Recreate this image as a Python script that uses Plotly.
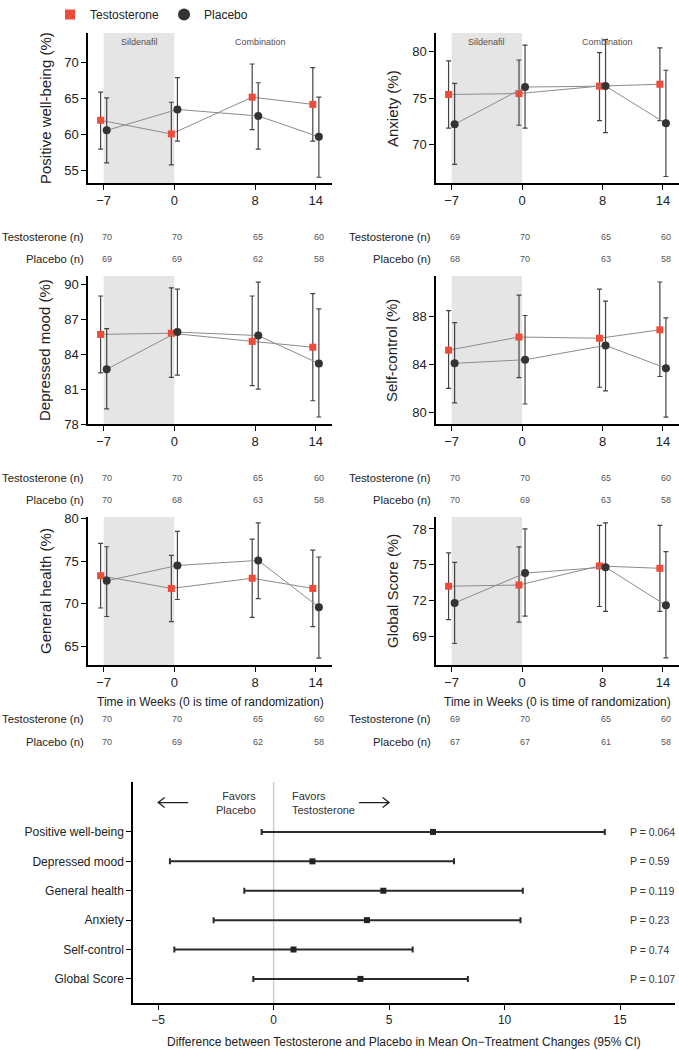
import plotly.graph_objects as go

W, H = 679, 1050
FONT = "Liberation Sans, Arial, sans-serif"

weeks = [-7, 0, 8, 14]
week_labels = ["−7", "0", "8", "14"]

# ---- Panel data (mean, lower CI, upper CI) ----
pwb_t = [62.0, 60.1, 65.2, 64.2]
pwb_t_lo = [58.0, 55.8, 60.7, 59.1]
pwb_t_hi = [65.9, 64.5, 69.8, 69.3]
pwb_p = [60.6, 63.5, 62.6, 59.7]
pwb_p_lo = [56.1, 59.1, 58.0, 54.1]
pwb_p_hi = [65.1, 67.9, 67.2, 65.2]

anx_t = [75.4, 75.5, 76.3, 76.5]
anx_t_lo = [71.8, 72.1, 72.6, 72.6]
anx_t_hi = [79.0, 79.1, 79.9, 80.4]
anx_p = [72.2, 76.2, 76.3, 72.3]
anx_p_lo = [67.9, 71.8, 71.3, 66.6]
anx_p_hi = [76.6, 80.7, 81.3, 78.0]

dep_t = [85.7, 85.8, 85.1, 84.6]
dep_t_lo = [82.4, 82.0, 81.3, 80.0]
dep_t_hi = [89.0, 89.7, 89.0, 89.2]
dep_p = [82.7, 85.9, 85.6, 83.2]
dep_p_lo = [79.3, 82.2, 81.0, 78.6]
dep_p_hi = [86.2, 89.6, 90.2, 87.9]

sc_t = [85.2, 86.3, 86.2, 86.9]
sc_t_lo = [82.0, 82.9, 82.1, 83.0]
sc_t_hi = [88.5, 89.8, 90.3, 90.9]
sc_p = [84.1, 84.4, 85.6, 83.7]
sc_p_lo = [80.8, 80.7, 81.8, 79.6]
sc_p_hi = [87.5, 88.1, 89.3, 87.9]

gh_t = [73.3, 71.8, 73.0, 71.8]
gh_t_lo = [69.5, 67.9, 68.4, 67.3]
gh_t_hi = [77.1, 75.7, 77.6, 76.3]
gh_p = [72.7, 74.5, 75.1, 69.6]
gh_p_lo = [68.5, 70.5, 70.6, 63.6]
gh_p_hi = [76.7, 78.5, 79.5, 75.5]

gs_t = [73.2, 73.3, 74.9, 74.7]
gs_t_lo = [70.4, 70.2, 71.5, 71.1]
gs_t_hi = [76.0, 76.5, 78.3, 78.3]
gs_p = [71.8, 74.3, 74.8, 71.6]
gs_p_lo = [68.4, 70.7, 71.1, 67.2]
gs_p_hi = [75.2, 78.0, 78.5, 76.1]

# ---- Sample sizes ----
pwb_n_t = [70, 70, 65, 60]
pwb_n_p = [69, 69, 62, 58]
anx_n_t = [69, 70, 65, 60]
anx_n_p = [68, 70, 63, 58]
dep_n_t = [70, 70, 65, 60]
dep_n_p = [70, 68, 63, 58]
sc_n_t = [70, 70, 65, 60]
sc_n_p = [70, 69, 63, 58]
gh_n_t = [70, 70, 65, 60]
gh_n_p = [70, 69, 62, 58]
gs_n_t = [69, 70, 65, 60]
gs_n_p = [67, 67, 61, 58]

panel_titles = ["Positive well-being (%)", "Anxiety (%)", "Depressed mood (%)",
                "Self-control (%)", "General health (%)", "Global Score (%)"]
panel_ranges = [[53.3, 74.1], [65.9, 82.0], [78.0, 90.72],
                [79.03, 91.4], [62.8, 80.2], [66.6, 79.0]]
panel_ticks = [[55, 60, 65, 70], [70, 75, 80], [78, 81, 84, 87, 90],
               [80, 84, 88], [65, 70, 75, 80], [69, 72, 75, 78]]

# ---- Forest plot data ----
forest_labels = ["Positive well-being", "Depressed mood", "General health",
                 "Anxiety", "Self-control", "Global Score"]
forest_est = [6.9, 1.68, 4.75, 4.04, 0.86, 3.76]
forest_lo = [-0.52, -4.49, -1.27, -2.6, -4.3, -0.88]
forest_hi = [14.34, 7.81, 10.79, 10.69, 6.02, 8.41]
forest_p = ["P = 0.064", "P = 0.59", "P = 0.119", "P = 0.23", "P = 0.74", "P = 0.107"]

panels = [
    (pwb_t, pwb_t_lo, pwb_t_hi, pwb_p, pwb_p_lo, pwb_p_hi, pwb_n_t, pwb_n_p),
    (anx_t, anx_t_lo, anx_t_hi, anx_p, anx_p_lo, anx_p_hi, anx_n_t, anx_n_p),
    (dep_t, dep_t_lo, dep_t_hi, dep_p, dep_p_lo, dep_p_hi, dep_n_t, dep_n_p),
    (sc_t, sc_t_lo, sc_t_hi, sc_p, sc_p_lo, sc_p_hi, sc_n_t, sc_n_p),
    (gh_t, gh_t_lo, gh_t_hi, gh_p, gh_p_lo, gh_p_hi, gh_n_t, gh_n_p),
    (gs_t, gs_t_lo, gs_t_hi, gs_p, gs_p_lo, gs_p_hi, gs_n_t, gs_n_p),
]

# ---- Layout geometry (pixels) ----
col_x = [(88, 332), (436, 679)]
row_y = [(33, 183), (276, 424), (517, 665)]
n_rows_y = [(237, 259), (478, 500), (719, 742)]
label_right = [86, 433]
ytitle_x = [45, 392]
XRANGE = [-8.55, 15.6]
T_COLOR = "#f04a38"
P_COLOR = "#333333"
LINE_COLOR = "#8c8c8c"
ERR_COLOR = "#444444"
TXT = "#222222"


def px(x):
    return x / W


def py(y):
    return 1 - y / H


def ann(**kw):
    kw.setdefault("showarrow", False)
    kw.setdefault("xanchor", "center")
    kw.setdefault("yanchor", "middle")
    return kw


fig = go.Figure()
layout = dict(width=W, height=H,
              margin=dict(l=0, r=0, t=0, b=0, pad=0, autoexpand=False),
              paper_bgcolor="white", plot_bgcolor="white",
              font=dict(family=FONT, color=TXT), shapes=[], annotations=[])

# legend entries (markers only)
fig.add_trace(go.Scatter(x=[None], y=[None], mode="markers", name="Testosterone",
                         marker=dict(symbol="square", size=10, color=T_COLOR)))
fig.add_trace(go.Scatter(x=[None], y=[None], mode="markers", name="Placebo",
                         marker=dict(symbol="circle", size=12, color=P_COLOR)))

for i, (tm, tlo, thi, pm, plo, phi, nt, npl) in enumerate(panels):
    r, c = i // 2, i % 2
    k = i + 1
    xa = "x" if k == 1 else f"x{k}"
    ya = "y" if k == 1 else f"y{k}"
    xkey = "xaxis" if k == 1 else f"xaxis{k}"
    ykey = "yaxis" if k == 1 else f"yaxis{k}"
    x0, x1 = col_x[c]
    y0, y1 = row_y[r]

    # Testosterone
    fig.add_trace(go.Scatter(
        x=[w - 0.3 for w in weeks], y=tm, xaxis=xa, yaxis=ya,
        mode="lines+markers", name="Testosterone", showlegend=False,
        line=dict(color=LINE_COLOR, width=1),
        marker=dict(symbol="square", size=7, color=T_COLOR),
        error_y=dict(type="data", symmetric=False,
                     array=[h - m for h, m in zip(thi, tm)],
                     arrayminus=[m - l for m, l in zip(tm, tlo)],
                     color=ERR_COLOR, thickness=1.2, width=2.5),
        cliponaxis=False))
    # Placebo
    fig.add_trace(go.Scatter(
        x=[w + 0.3 for w in weeks], y=pm, xaxis=xa, yaxis=ya,
        mode="lines+markers", name="Placebo", showlegend=False,
        line=dict(color=LINE_COLOR, width=1),
        marker=dict(symbol="circle", size=8, color=P_COLOR),
        error_y=dict(type="data", symmetric=False,
                     array=[h - m for h, m in zip(phi, pm)],
                     arrayminus=[m - l for m, l in zip(pm, plo)],
                     color=ERR_COLOR, thickness=1.2, width=2.5),
        cliponaxis=False))

    layout[xkey] = dict(domain=[px(x0), px(x1)], anchor=ya, range=XRANGE,
                        tickvals=weeks, ticktext=week_labels, automargin=False,
                        showline=True, linecolor="black", linewidth=1.5,
                        ticks="outside", ticklen=5, tickcolor="black",
                        showgrid=False, zeroline=False,
                        tickfont=dict(size=13, color=TXT))
    layout[ykey] = dict(domain=[py(y1), py(y0)], anchor=xa, automargin=False,
                        range=panel_ranges[i], tickvals=panel_ticks[i],
                        showline=True, linecolor="black", linewidth=1.5,
                        ticks="outside", ticklen=5, tickcolor="black",
                        showgrid=False, zeroline=False,
                        tickfont=dict(size=13, color=TXT))

    # shaded sildenafil phase
    layout["shapes"].append(dict(type="rect", xref=xa, yref=f"{ya} domain",
                                 x0=-7, x1=0, y0=0, y1=1, fillcolor="#e5e5e5",
                                 line=dict(width=0), layer="below"))

    # y title
    layout["annotations"].append(ann(
        text=panel_titles[i], xref="paper", yref="paper",
        x=px(ytitle_x[c]), y=py((y0 + y1) / 2), textangle=-90,
        font=dict(size=15, color=TXT)))

    if r == 0:
        layout["annotations"].append(ann(
            text="Sildenafil", xref=xa, yref="paper", x=-3.5, y=py(42),
            font=dict(size=9, color="#5a4c4c")))
        layout["annotations"].append(ann(
            text="Combination", xref=xa, yref="paper", x=8.5, y=py(42),
            font=dict(size=9, color="#5a4c4c")))

    if r == 2:
        layout["annotations"].append(ann(
            text="Time in Weeks (0 is time of randomization)", xref="paper",
            yref="paper", x=px((x0 + x1) / 2), y=py(702),
            font=dict(size=12, color=TXT)))

    # n table
    ty, pyy = n_rows_y[r]
    layout["annotations"].append(ann(
        text="Testosterone (n)", xref="paper", yref="paper",
        x=px(label_right[c]), y=py(ty), xanchor="right",
        font=dict(size=11.3, color=TXT)))
    layout["annotations"].append(ann(
        text="Placebo (n)", xref="paper", yref="paper",
        x=px(label_right[c]), y=py(pyy), xanchor="right",
        font=dict(size=11.3, color=TXT)))
    for w, a, b in zip(weeks, nt, npl):
        layout["annotations"].append(ann(
            text=str(a), xref=xa, yref="paper", x=w, y=py(ty), xshift=3,
            font=dict(size=9, color="#555555")))
        layout["annotations"].append(ann(
            text=str(b), xref=xa, yref="paper", x=w, y=py(pyy), xshift=3,
            font=dict(size=9, color="#555555")))

# ---- Forest plot ----
ypos = list(range(len(forest_labels), 0, -1))
fig.add_trace(go.Scatter(
    x=forest_est, y=ypos, xaxis="x7", yaxis="y7", mode="markers",
    showlegend=False,
    marker=dict(symbol="square", size=6, color="#222222"),
    error_x=dict(type="data", symmetric=False,
                 array=[h - e for h, e in zip(forest_hi, forest_est)],
                 arrayminus=[e - l for e, l in zip(forest_est, forest_lo)],
                 color="#2a2a2a", thickness=2, width=3)))

layout["xaxis7"] = dict(domain=[px(133), px(675)], anchor="y7", automargin=False,
                        range=[-6.09, 17.38], tickvals=[-5, 0, 5, 10, 15],
                        ticktext=["−5", "0", "5", "10", "15"],
                        showline=True, linecolor="black", linewidth=1.5,
                        ticks="outside", ticklen=5, tickcolor="black",
                        showgrid=False, zeroline=False,
                        tickfont=dict(size=12, color=TXT))
layout["yaxis7"] = dict(domain=[py(1003), py(782)], anchor="x7", automargin=False,
                        range=[0.18, 7.70], tickvals=ypos, ticktext=forest_labels,
                        showline=True, linecolor="black", linewidth=1.5,
                        ticks="outside", ticklen=5, tickcolor="black",
                        showgrid=False, zeroline=False,
                        tickfont=dict(size=12, color=TXT))

layout["shapes"].append(dict(type="line", xref="x7", yref="y7 domain",
                             x0=0, x1=0, y0=0, y1=1,
                             line=dict(color="#cccccc", width=1.5), layer="below"))
# arrows
for path in ["M -3.7 7 L -5 7 M -4.72 7.17 L -5 7 L -4.72 6.83",
             "M 3.7 7 L 5 7 M 4.72 7.17 L 5 7 L 4.72 6.83"]:
    layout["shapes"].append(dict(type="path", xref="x7", yref="y7", path=path,
                                 line=dict(color="#222222", width=1.3)))

layout["annotations"].append(ann(
    text="Favors<br>Placebo", xref="x7", yref="y7", x=-0.67, y=7.0,
    xanchor="right", align="right", font=dict(size=11, color="#333333")))
layout["annotations"].append(ann(
    text="Favors<br>Testosterone", xref="x7", yref="y7", x=0.71, y=7.0,
    xanchor="left", align="left", font=dict(size=11, color="#333333")))
for yv, ptxt in zip(ypos, forest_p):
    layout["annotations"].append(ann(
        text=ptxt, xref="paper", yref="y7", x=px(628), y=yv,
        xanchor="left", font=dict(size=10.5, color="#333333")))
layout["annotations"].append(ann(
    text="Difference between Testosterone and Placebo in Mean On−Treatment Changes (95% CI)",
    xref="paper", yref="paper", x=px(404), y=py(1042),
    font=dict(size=12, color=TXT)))

layout["legend"] = dict(orientation="h", x=px(50), y=1.0, xanchor="left",
                        yanchor="top", font=dict(size=12, color=TXT),
                        itemsizing="trace", bgcolor="rgba(0,0,0,0)",
                        traceorder="normal")

fig.update_layout(**layout)
fig.write_html("out.html", config={"displayModeBar": False},
               post_script="document.body.style.margin='0';document.body.style.overflow='hidden';")
